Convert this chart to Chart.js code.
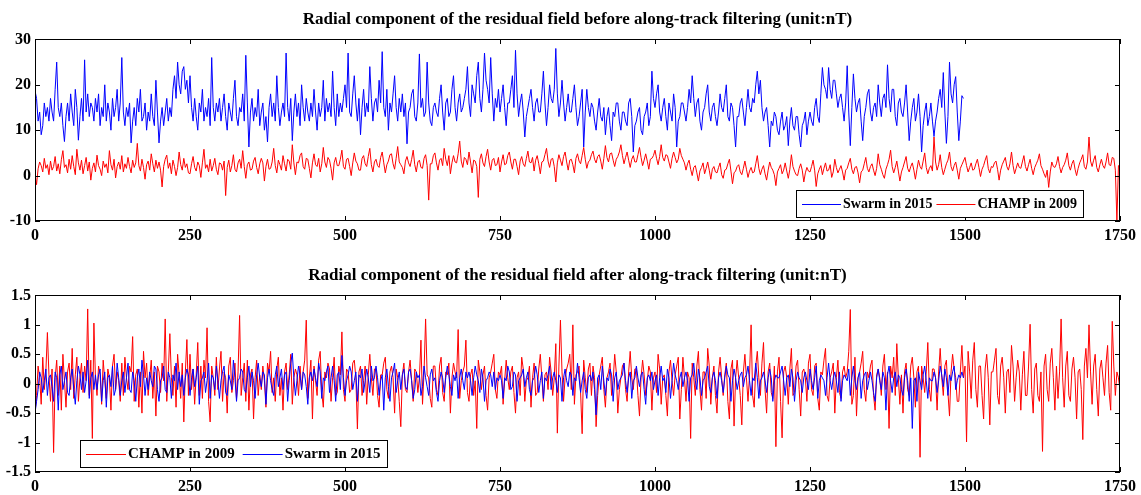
<!DOCTYPE html>
<html>
<head>
<meta charset="utf-8">
<script src="https://cdn.jsdelivr.net/npm/chart.js@4.4.1/dist/chart.umd.min.js"></script>
<style>
  html, body { margin: 0; padding: 0; background: #fff; }
  canvas { display: block; }
</style>
</head>
<body>
<canvas id="graficoAntes" width="1141" height="248"></canvas>
<canvas id="graficoDespues" width="1141" height="247"></canvas>
<script>
// Muestras cada 2.5 unidades del eje x (20 por fila = 50 unidades)
const paso = 2.5;

// Ticks de los ejes
const ticksX = [0, 250, 500, 750, 1000, 1250, 1500, 1750];
const ticksYAntes = [-10, 0, 10, 20, 30];
const ticksYDespues = [-1.5, -1, -0.5, 0, 0.5, 1, 1.5];

// Panel superior: Swarm 2015 antes del filtrado (x = 0..1497.5)
const swarmAntes = [
  18.7, 17, 12, 14, 9, 11, 16, 13, 15, 12, 17, 14, 12, 19, 25, 15, 13, 16, 11, 7.5,
  13, 16, 12, 18, 14, 11, 19, 15, 7.8, 13, 17, 12, 25.5, 14, 18, 13, 16, 15, 12, 17,
  14, 18, 11, 15, 13, 20, 12, 16, 14, 10, 17, 13, 15, 19, 12, 16, 26, 14, 11, 15,
  13, 16, 7.2, 12, 15, 11, 17, 14, 19, 12, 13, 16, 10, 14, 12, 18, 13, 11, 21, 14,
  7.2, 12, 15, 11, 14, 17, 12, 15, 13, 19, 22, 17, 25, 20, 18, 23, 24, 19, 21, 16,
  22, 15, 12, 17, 13, 10, 16, 14, 19, 12, 15, 13, 17, 11, 26, 15, 12, 16, 14, 17,
  12, 15, 18, 13, 10, 16, 14, 12, 17, 21, 13, 11, 15, 14, 18, 12, 26.5, 16, 6.3, 14,
  17, 12, 15, 13, 19, 11, 14, 16, 10, 13, 7.4, 15, 18, 13, 16, 12, 22, 15, 11, 14,
  16, 13, 27, 15, 12, 17, 7.7, 14, 18, 13, 16, 11, 20, 15, 12, 17, 14, 12, 16, 13,
  19, 14, 10, 16, 13, 15, 21, 12, 17, 14, 16, 13, 23, 15, 11, 18, 13, 16, 14, 17,
  20, 15, 27, 14, 13, 18, 22, 16, 12, 17, 9, 15, 19, 13, 16, 14, 24, 17, 12, 16,
  17, 14, 21, 16, 27.3, 15, 13, 19, 10, 16, 14, 18, 22, 15, 12, 17, 14, 18, 13, 16,
  7, 14, 15, 18, 19, 13, 12, 16, 26.8, 15, 17, 13, 14, 25, 16, 12, 11, 15, 16, 14,
  13, 17, 20, 14, 10, 16, 17, 13, 14, 19, 22, 15, 12, 16, 18, 14, 15, 17, 19, 24,
  16, 13, 20, 18, 16, 22, 25, 17, 14, 19, 27, 21, 19, 16, 26, 18, 12, 17, 15, 19,
  14, 17, 20, 15, 11, 16, 16, 19, 22, 15, 27.6, 18, 13, 16, 18, 14, 8.5, 13, 15, 17,
  19, 15, 12, 16, 17, 14, 14, 18, 23, 16, 11, 15, 20, 17, 16, 19, 28, 18, 13, 16,
  21, 16, 12, 15, 18, 14, 14, 17, 20, 15, 11, 13, 16, 19, 6.3, 14, 19, 15, 13, 16,
  15, 12, 10, 14, 17, 13, 12, 15, 9, 13, 15, 11, 7.7, 14, 13, 16, 16, 12, 10, 14,
  14, 12, 11, 16, 17, 13, 5.2, 11, 12, 14, 15, 10, 9, 13, 14, 16, 11, 13, 23, 17,
  15, 18, 20, 14, 12, 15, 17, 13, 10, 16, 14, 12, 18, 15, 6.3, 12, 13, 16, 16, 14,
  12, 15, 19, 16, 22, 17, 13, 16, 17, 12, 10, 14, 15, 18, 20, 14, 12, 15, 16, 13,
  11, 14, 18, 15, 14, 17, 20, 13, 12, 16, 15, 11, 6.3, 13, 13, 16, 17, 14, 11, 15,
  19, 15, 14, 17, 16, 20, 23, 18, 21, 15, 12, 14, 15, 11, 6.3, 12, 11, 14, 13, 10,
  9, 12, 14, 10, 11, 13, 6.6, 12, 15, 11, 10, 13, 13, 9, 6.3, 11, 12, 14, 9, 12,
  14, 12, 11, 15, 17, 13, 11.7, 18, 23.8, 20, 19, 17, 23.8, 19, 17, 21, 21, 18, 15, 17,
  18, 15, 12, 16, 24.2, 14, 6.6, 15, 22.4, 17, 14, 16, 17, 12, 7.7, 13, 15, 18, 19, 14,
  12, 15, 16, 13, 20, 16, 13, 17, 18, 15, 24.4, 17, 14, 19, 19, 13, 11, 16, 17, 14,
  13, 16, 20, 14, 7.7, 12, 15, 17, 12, 14, 18, 13, 5.2, 11, 14, 16, 11, 13, 16, 12,
  8.6, 12, 14, 17, 19, 15, 22.7, 14, 7.1, 13, 25, 18, 16, 20, 21.8, 14, 7.7, 12, 17.6, 17
];

// Panel superior: CHAMP 2009 antes del filtrado (x = 0..1750)
const champAntes = [
  0.5, -2, 1.5, 3, 2.2, 0.8, 3.8, 1.6, 2.4, 0.2, 3.2, 1.2, 2, 4.2, 1, 2.6, 0.4, 3.5, 5.5, 1.8,
  2.4, 0.6, 3.6, 1.4, 4.4, 2, 0.2, 5.8, 2.8, 1.2, 3.4, 0.4, 2.2, 4, 1, 3, -1, 1.6, 2.8, 0.8,
  4.5, 2.2, 1.4, 0, 3.2, 1.8, 2.6, 0.6, 5.5, 2.4, 1.2, 3.6, -0.5, 2, 3, 1.4, 4.4, 0.8, 2.6, 1.6,
  4, 2, 0.6, 3.4, 1.8, 2.8, 7.1, 2.2, 1, 3.6, 1.8, -0.8, 2.4, 3.2, 1.2, 4.8, 2.6, 0.8, 3.4, 1.6,
  3, 1.2, -2.5, 2, 3.6, 4.5, 1.6, 2.8, 0.4, 3.4, 2, 0, 1.8, 5.2, 2.4, 1.2, 3.8, 1.8, 2.6, 0.6,
  0.4, 2.6, 4.2, 1.8, 1, 3, 2.2, -0.4, 2.8, 5.8, 1.6, 2.4, 0.8, 3.6, 1, 2.2, 3.8, 1.4, 0.2, 2.8,
  2.6, 1.2, 3.2, -4.4, 1.8, 3.4, 0.8, 2.2, 4.6, 1.4, 0.8, 2.8, 3.6, 1.6, 5.5, 2, -0.6, 2.4, 3, 1.2,
  1.4, 3.2, 4, 1.8, 0.4, 2.6, 3.8, 2.8, -1.2, 2, 3.6, 1.4, 1.6, 3, 6, 2.2, 0.6, 3.4, 2.4, 1.2,
  4.4, 2.6, 1, 3.6, 3.2, 1.4, 6.8, 2.8, 0.2, 3, 2.8, 4.4, 5, 2, 1.4, 3.8, 3.6, 1.6, -0.5, 2.8,
  4.8, 2.4, 2, 3.8, 0.8, 2.6, 6.2, 3, 1.8, 4, 3.4, 1.6, -1, 2.8, 4, 2.2, 2.2, 3.6, 5.6, 2,
  1.4, 3.6, 3.8, 2, 0, 2.8, 5, 3.2, 2.6, 1.2, 1.2, 3.8, 4.4, 2.6, 2, 4.2, 6, 2.4, 0.8, 3,
  3.6, 2.2, 1.8, 4, 5.2, 2.8, 0.6, 2.4, 3.2, 4.6, 4.8, 2.6, 1.4, 3.8, 6.4, 3, 2.4, 1.8, 0.4, 3.2,
  4.2, 2.8, 2, 3.6, 5.6, 2.4, 0.8, 3, 3.4, 1.8, 1.6, 3.8, 4.6, 2.2, -5.4, 2.6, 2.6, 4.4, 5, 2.8,
  1.2, 3.4, 3.8, 2.2, 6, 3.6, 2.2, 4.4, 0.4, 2.8, 4.4, 3, 2.8, 4.8, 7.6, 3.2, 1.8, 4, 3.6, 2.4,
  5.2, 3, 0.6, 3.4, 3.2, 2, -4.8, 3.6, 4.8, 2.8, 2, 4.2, 5.8, 3, 1.2, 3.4, 3.8, 2.2, 2.4, 4,
  0.8, 3, 4.6, 2.4, 2.6, 4.4, 5.2, 3, 1.4, 3.6, 3.6, 2, 0.2, 3.2, 4.2, 2.6, 2, 3.8, 5.4, 3,
  2.8, 4, 1, 3.4, 4.4, 2.6, 0.4, 3, 3.2, 4.6, 6, 3.2, 1.8, 3.6, 3.8, 2, -1.4, 2.8, 4.6, 3.4,
  2.2, 4.2, 5.2, 3, 1.2, 3.4, 3.6, 2.4, 0.6, 3.8, 4.8, 3.2, 2.6, 4.4, 6.2, 3.6, 1.6, 3, 3.4, 4.6,
  5.4, 3.6, 2.8, 4.2, 4.6, 3.2, 1.4, 3.8, 6.6, 4, 3, 4.8, 5, 3.4, 2, 3.6, 4.2, 5.2, 6.8, 4.4,
  2.6, 4, 5.2, 3.4, 1.8, 3.6, 4.4, 3, 3, 4.6, 6.2, 4, 2.2, 3.4, 4.8, 3.2, 1.4, 3.6, 3.8, 4.4,
  5.6, 3.8, 2.4, 4.2, 6.8, 4, 3.2, 4.6, 4.4, 3, 1.6, 3.8, 5.2, 4, 2.8, 3.6, 6, 4.4, 3.6, 2.8,
  1.2, 2.6, 3.4, 1.4, 0, 1.8, 2.2, 0.6, -1.2, 1, 1.8, 2.8, 0.4, 1.6, 3, 1.2, -0.8, 1.4, 2, 0.8,
  0.6, 1.8, 2.8, 0.2, -0.6, 1.2, 1.4, 2.6, 3.6, 1, -1.8, 0.6, 1, 2, 2.4, 0.8, 0.2, 1.6, 3.2, 1.4,
  -0.4, 1, 1.8, 0.6, 0.8, 2.6, 4.4, 1.6, 0.2, 1.4, 2.2, 0.4, -1, 1.2, 3, 1.8, 1.2, 0.2, -2.2, 0.8,
  1.6, 2.4, 0.4, 1.2, 2.8, 1, -0.6, 1.4, 4.6, 2, 1, 0.2, 0, 1.6, 2.6, 1.2, -1.4, 0.6, 1.8, 1,
  0.8, 2, 3.4, 1.2, -2.4, 0.4, 1.4, 2.2, 0.2, 1.6, 2.8, 1, 1.2, 2.4, -0.4, 0.8, 3.6, 1.8, 0.6, 1.4,
  2.2, 0.8, -1, 1.2, 1.6, 2.8, 3.8, 1.4, 0.4, 1.8, 2, 0.6, -1.6, 0.8, 1.2, 2.6, 4, 1.6, 0.8, 2,
  2.6, 1.2, 0, 1.6, 4.8, 2.4, 1.4, 0.2, -0.6, 1.4, 2.4, 3.6, 5.6, 2, 0.6, 1.8, 3.2, 1, -1.2, 0.8,
  1.8, 3, 4.2, 1.6, 0.8, 2, 2.8, 1.2, -0.8, 1.4, 3.4, 2, 1.4, 3.2, 5, 1.8, 0.4, 1.6, 2.2, 1,
  8.5, 3, 1.2, 2.4, 4.6, 1.8, 0.2, 1.4, 2.6, 3.4, 5.2, 2, 1, 2.2, 3, 1.2, -0.8, 1.6, 2.4, 3.2,
  4, 2.2, 0.8, 1.8, 2.8, 1.2, 1.4, 2.6, 3.6, 1.8, -0.2, 1.4, 2.2, 3.4, 4.4, 1.6, 0.6, 2, 1.8, 2.8,
  3.2, 1.4, -1, 1.2, 2.4, 3.2, 4, 2, 1.2, 2.6, 5.2, 2.2, 0.4, 1.6, 2.8, 1.8, 1.6, 3, 4.4, 2,
  1, 2.4, 3.6, 1.6, 0.2, 1.8, 2.6, 3.4, 4.8, 2.2, 1.4, 0.4, -0.4, 1.2, -2.6, 0.8, 3, 2, 1.8, 2.6,
  4.2, 2, 0.6, 1.8, 2.4, 3.4, 5, 2.2, 1.2, 2.6, 3.4, 1.4, 0, 1.6, 2.8, 3.6, 4.6, 2, 1.4, 3,
  8.5, 3.2, 2, 3.4, 4.4, 1.8, 0.8, 2.4, 3.6, 2.2, 1.6, 3, 5, 2.4, 2.2, 4, 3.8, 1.2, -10, 2.2,
  2.4
];

// Panel inferior: CHAMP 2009 despues del filtrado (x = 0..1750)
const champDespues = [
  -0.5, -0.2, 0.3, 0.1, -0.35, 0.45, -0.1, 0.2, 0.87, 0.15, -0.3, 0.25, -1.17, 0.1, 0.4, -0.2, 0.3, -0.45, 0.5, 0.05,
  -0.4, 0.2, 0.35, -0.1, 0.6, -0.25, 0.15, 0.45, -0.3, 0.1, 0.35, -0.15, 0.3, 0.05, 1.27, -0.2, 0.4, -0.93, 1.03, 0.1,
  -0.2, 0.3, 0.15, -0.35, 0.4, 0.05, -0.25, 0.25, 0.1, -0.45, 0.3, 0.5, -0.1, 0.2, 0.05, -0.3, 0.35, -0.2, 0.45, 0.1,
  -0.1, 0.3, 0.2, 0.8, -0.3, 0.15, 0.25, -0.4, 0.2, -0.5, 0.55, 0.1, 0.35, -0.2, 0.1, 0.4, -0.25, 0.2, -0.55, 0.3,
  0.2, -0.15, 0.35, 0.05, 1.1, -0.3, 0.2, 0.85, 0.1, -0.2, 0.3, -0.4, 0.5, 0.15, -0.25, 0.35, -0.65, 0.2, 0.75, -0.2,
  0.5, -0.1, 0.25, -0.35, 0.15, 0.7, -0.2, 0.3, -0.25, 0.4, 0.1, 0.95, -0.3, -0.65, 0.3, 0.1, -0.2, 0.45, -0.1, 0.25,
  0.55, -0.3, 0.2, 0.1, -0.5, 0.3, 0.45, -0.15, 0.05, 0.35, -0.25, 0.2, 1.16, -0.2, 0.1, 0.35, -0.3, 0.4, -0.45, 0.15,
  0.25, -0.6, 0.1, 0.4, -0.2, 0.15, -0.1, 0.3, 0.05, -0.4, 0.35, 0.2, 0.55, -0.15, 0.1, -0.3, 0.25, 0.45, -0.2, 0.1,
  -0.45, 0.2, 0.35, -0.1, 0.15, 0.5, -0.35, 0.1, 0.25, 0.15, -0.2, 0.3, -0.1, 0.2, 0.4, 1.08, -0.25, 0.1, 0.4, -0.6,
  0.3, 0.05, -0.2, 0.4, 0.55, -0.15, -0.4, 0.2, 0.1, 0.35, 0.25, -0.3, 0.1, 0.45, -0.2, -0.15, 0.3, 0.15, 0.88, -0.1,
  -0.3, 0.25, 0.2, -0.15, -0.1, 0.35, 0.4, 0.1, -0.77, 0.2, 0.3, -0.2, 0.05, 0.3, -0.35, 0.15, 0.5, 0.1, -0.2, 0.25,
  0.25, -0.2, -0.4, 0.15, 0.15, 0.35, 0.45, -0.1, -0.25, 0.2, 0.3, 0.1, -0.5, 0.25, 0.1, -0.3, -0.73, 0.15, 0.35, -0.1,
  -0.15, 0.2, 0.4, 0.05, -0.3, 0.25, 0.2, -0.15, 0.1, 0.74, -0.35, 0.2, 1.1, 0.15, 0.1, -0.25, -0.4, 0.3, 0.3, -0.1,
  -0.2, 0.3, 0.45, -0.15, -0.3, 0.2, 0.15, 0.35, -0.5, 0.1, 0.35, 0.2, 0.1, 0.92, -0.25, 0.05, 0.2, 0.3, 0.74, -0.15,
  -0.3, 0.15, 0.25, -0.2, 0.05, -0.76, 0.4, 0.2, -0.1, 0.15, 0.3, -0.2, -0.45, 0.1, 0.2, 0.35, 0.5, -0.1, -0.25, 0.2,
  0.15, 0.3, -0.35, 0.05, 0.4, 0.1, -0.1, 0.2, 0.3, -0.15, -0.5, 0.1, 0.2, -0.2, 0.45, 0.25, -0.3, 0.05, 0.1, 0.3,
  -0.4, 0.1, 0.35, -0.2, -0.15, 0.25, 0.5, 0.1, -0.3, 0.15, 0.2, -0.1, 0.45, 0.2, -0.2, 0.1, 0.68, -0.84, 0.3, 1.08,
  0.2, -0.3, 0.1, 0.25, 0.35, 0.5, -0.1, 1.0, -0.35, 0.15, 0.2, 0.3, -0.15, -0.85, 0.4, 0.1, -0.15, 0.25, 0.35, -0.2,
  0.3, 0.1, -0.73, -0.2, 0.15, 0.3, 0.45, -0.1, -0.4, 0.1, 0.2, 0.35, -0.2, 0.05, 0.5, 0.2, -0.5, -0.1, 0.1, 0.3,
  0.35, -0.1, -0.3, 0.2, 0.55, 0.1, -0.1, 0.25, 0.25, -0.2, -0.55, 0.1, 0.4, 0.15, -0.2, 0.05, 0.3, 0.2, -0.45, 0.1,
  0.2, -0.15, 0.5, 0.25, -0.35, 0.1, 0.15, -0.2, -0.55, 0.2, 0.4, 0.05, -0.2, 0.15, 0.3, 0.45, -0.6, -0.1, 0.45, 0.1,
  -0.3, 0.2, 0.1, -0.93, 0.35, 0.1, -0.2, 0.3, 0.55, -0.1, -0.45, 0.2, 0.2, -0.25, 0.6, 0.3, -0.35, 0.1, 0.3, -0.2,
  -0.5, 0.2, 0.45, 0.1, -0.2, 0.15, 0.35, -0.3, -0.6, 0.25, 0.4, -0.72, 0.1, 0.4, 0.1, -0.2, -0.7, 0.2, 0.5, 0.1,
  -0.3, 0.15, 1.0, -0.2, -0.4, 0.3, 0.55, 0.1, -0.2, 0.35, 0.7, -0.1, -0.5, 0.2, 0.35, -0.15, -0.25, 0.3, -1.07, 0.2,
  0.45, -0.3, -0.92, 0.2, 0.3, 0.1, -0.35, 0.25, 0.6, -0.2, -0.15, 0.3, 0.4, -0.1, -0.55, 0.2, 0.25, 0.1, -0.3, 0.35,
  0.5, -0.1, -0.2, 0.3, 0.35, -0.25, -0.45, 0.2, 0.15, 0.4, 0.6, -0.2, -0.3, 0.1, 0.2, 0.35, -0.5, 0.1, 0.4, -0.15,
  -0.25, 0.2, 0.3, 0.1, 0.2, 0.55, 1.26, -0.35, -0.2, 0.45, -0.55, 0.1, 0.2, 0.35, 0.55, -0.1, -0.3, 0.2, 0.1, 0.3,
  0.4, -0.2, -0.45, 0.15, 0.25, 0.1, -0.2, 0.3, 0.5, -0.1, 0.2, -0.76, 0.3, 0.1, 0.45, -0.2, 0.68, 0.1, -0.35, 0.15,
  -0.5, 0.2, 0.35, -0.1, -0.2, 0.3, 0.45, 0.1, -0.4, 0.2, 0.3, -1.25, 0.3, 0.1, -0.15, 0.2, 0.7, -0.1, -0.3, 0.25,
  0.25, 0.1, -0.45, 0.2, 0.6, 0.1, -0.2, 0.3, 0.4, -0.15, -0.55, 0.2, 0.5, 0.25, 0.1, -0.3, -0.3, 0.2, 0.65, 0.1,
  0.3, -0.99, 0.55, 0.2, -0.25, 0.4, 0.7, -0.1, -0.4, 0.3, 0.3, -0.2, -0.6, 0.25, 0.5, 0.1, -0.7, 0.2, 0.2, 0.4,
  0.6, -0.2, -0.35, 0.3, 0.45, 0.1, -0.5, 0.2, 0.25, -0.15, 0.65, 0.3, -0.3, 0.1, 0.4, 0.2, -0.45, 0.15, 0.55, -0.2,
  -0.2, 0.3, 1.01, -0.1, -0.5, 0.25, 0.35, -0.2, -0.3, 0.2, -1.15, 0.3, 0.5, -0.1, -0.3, 0.35, 0.6, 0.1, -0.45, 0.3,
  -0.25, 0.2, 1.1, 0.1, -0.4, 0.3, 0.55, -0.2, -0.3, 0.25, 0.45, 0.1, -0.6, 0.2, 0.25, -0.1, -0.95, 0.3, 0.6, 0.1,
  1.0, 0.2, -0.35, 0.3, 0.5, -0.1, -0.55, 0.25, 0.4, 0.1, -0.2, 0.35, 0.65, -0.15, -0.45, 1.06, 0.3, -0.2, 0.2, 0.1,
  -0.1
];

// Panel inferior: Swarm 2015 despues del filtrado (x = 0..1497.5)
const swarmDespues = [
  -0.5, -0.3, -0.1, 0.2, 0.1, -0.15, 0.05, 0.25, -0.2, 0.1, 0.15, -0.05, -0.3, 0.2, 0.1, -0.45, 0.15, 0.3, -0.1, 0.05,
  0.2, -0.15, -0.2, 0.1, 0.25, -0.1, -0.35, 0.05, 0.3, 0.15, -0.1, 0.2, -0.15, 0.05, 0.4, -0.25, 0.1, 0.2, -0.1, 0.15,
  -0.1, 0.15, 0.25, -0.3, 0.05, 0.2, -0.4, 0.1, 0.15, -0.05, 0.3, -0.2, -0.1, 0.35, 0.1, -0.2, 0.05, 0.2, -0.15, 0.1,
  0.35, -0.1, -0.15, 0.2, 0.05, -0.3, 0.1, 0.25, -0.05, 0.4, 0.15, -0.2, 0.1, -0.1, 0.2, 0.05, -0.05, 0.3, 0.25, -0.1,
  -0.3, 0.05, 0.1, 0.3, -0.1, -0.15, 0.2, 0.1, -0.25, 0.15, 0.05, 0.35, -0.1, 0.2, -0.05, 0.15, -0.2, 0.1, 0.25, 0.15,
  -0.2, 0.1, 0.25, -0.05, 0.1, 0.3, -0.35, 0.05, 0.1, 0.2, -0.15, 0.05, 0.35, -0.25, 0.15, 0.1, -0.1, 0.3, 0.05, -0.25,
  0.05, 0.2, 0.3, -0.15, -0.2, 0.15, 0.05, -0.1, 0.4, 0.1, -0.3, 0.05, 0.1, 0.25, 0.2, -0.1, -0.15, 0.1, 0.3, -0.05,
  0.2, 0.05, -0.25, 0.15, 0.35, 0.1, -0.05, 0.2, 0.15, -0.35, 0.1, 0.25, 0.05, -0.1, -0.2, 0.15, 0.3, -0.05, 0.1, 0.25,
  -0.1, 0.15, 0.2, -0.3, 0.05, 0.35, 0.52, 0.1, -0.2, 0.05, 0.3, 0.15, -0.1, 0.2, 0.15, -0.05, -0.35, 0.1, 0.2, 0.05,
  0.25, 0.1, -0.05, 0.35, 0.2, -0.25, 0.1, 0.05, 0.2, 0.3, -0.15, 0.1, 0.3, 0.05, -0.3, 0.15, 0.2, -0.1, 0.48, 0.1,
  -0.2, 0.05, 0.15, 0.3, 0.2, -0.1, 0.05, 0.2, -0.3, 0.15, 0.1, 0.25, -0.15, 0.05, 0.25, 0.1, -0.15, 0.3, 0.05, 0.1,
  0.3, 0.1, -0.2, 0.05, 0.15, -0.45, 0.1, 0.25, -0.05, -0.3, 0.1, 0.2, 0.35, -0.15, 0.05, 0.2, -0.1, 0.15, 0.25, -0.05,
  -0.1, 0.2, 0.25, 0.05, -0.25, -0.1, 0.2, 0.1, 0.15, -0.2, -0.05, 0.3, 0.1, -0.05, -0.2, 0.15, 0.25, 0.05, 0.1, -0.15,
  -0.3, 0.05, 0.2, 0.1, -0.15, 0.1, 0.3, 0.15, -0.05, -0.2, 0.15, 0.05, 0.2, -0.25, 0.1, 0.25, 0.05, -0.1, 0.2, 0.1,
  0.2, 0.05, -0.2, 0.1, 0.3, 0.15, 0.05, -0.15, 0.25, 0.1, -0.3, 0.05, 0.1, 0.2, 0.15, -0.05, 0.2, -0.1, 0.1, 0.05,
  0.15, 0.05, -0.25, 0.1, 0.05, 0.3, 0.2, -0.1, -0.05, 0.2, 0.15, -0.3, 0.05, 0.1, 0.15, 0.25, -0.05, 0.1, 0.2, -0.1,
  -0.2, 0.05, 0.1, 0.3, 0.15, -0.15, 0.05, 0.2, -0.25, 0.1, 0.05, 0.15, 0.3, -0.1, 0.1, 0.2, 0.05, -0.15, 0.15, 0.1,
  -0.3, 0.1, 0.25, 0.05, -0.05, 0.2, 0.15, -0.2, 0.1, 0.05, 0.35, 0.1, -0.15, 0.05, 0.2, -0.1, -0.25, 0.1, 0.15, 0.05,
  0.2, -0.1, -0.53, 0.1, 0.15, -0.1, 0.3, 0.05, -0.2, 0.1, 0.05, 0.25, 0.15, -0.3, 0.1, 0.2, -0.1, 0.05, 0.1, 0.15,
  0.35, 0.05, -0.15, 0.1, 0.2, -0.25, 0.05, 0.1, 0.3, 0.1, -0.05, 0.15, 0.2, -0.1, -0.35, 0.1, 0.15, 0.05, 0.2, -0.1,
  0.05, 0.15, -0.2, 0.1, 0.3, 0.05, 0.1, -0.15, 0.25, 0.1, -0.25, 0.05, 0.35, 0.15, 0.05, -0.1, 0.1, 0.2, -0.05, 0.1,
  0.2, 0.05, -0.3, 0.1, 0.15, 0.35, 0.05, -0.1, 0.25, 0.1, -0.2, 0.05, 0.1, 0.2, 0.3, -0.05, -0.15, 0.1, 0.2, 0.05,
  -0.25, 0.1, 0.2, 0.05, -0.15, 0.1, 0.3, 0.15, 0.1, -0.3, 0.05, 0.25, 0.1, -0.1, 0.05, 0.15, 0.2, -0.05, 0.1, 0.15,
  0.3, 0.05, -0.2, 0.1, 0.05, 0.35, 0.1, -0.25, 0.05, 0.1, 0.2, 0.05, -0.15, 0.1, 0.25, 0.1, -0.3, 0.05, 0.15, 0.1,
  0.1, 0.2, 0.3, 0.05, -0.2, 0.1, 0.15, -0.05, 0.25, 0.1, -0.3, 0.05, 0.2, 0.1, 0.05, -0.15, 0.1, 0.2, 0.05, -0.1,
  0.25, 0.05, -0.1, 0.1, 0.3, -0.25, 0.05, 0.15, 0.1, 0.05, -0.2, 0.1, 0.35, 0.05, -0.1, 0.1, 0.2, 0.05, -0.15, 0.2,
  -0.3, 0.05, 0.15, 0.1, 0.05, 0.25, -0.2, 0.1, 0.3, 0.05, -0.1, 0.1, 0.2, -0.25, 0.05, 0.15, 0.2, -0.1, 0.05, 0.2,
  0.05, -0.15, -0.3, 0.1, 0.25, 0.05, -0.1, 0.2, 0.1, -0.45, 0.15, 0.3, 0.05, -0.15, 0.1, 0.2, -0.05, 0.15, 0.1, -0.1,
  -0.2, 0.1, 0.25, 0.05, -0.3, 0.1, -0.76, 0.05, 0.1, -0.3, 0.2, 0.05, -0.1, 0.15, 0.3, 0.05, -0.25, 0.1, 0.05, 0.05,
  0.2, 0.1, -0.15, 0.05, 0.3, 0.15, -0.05, 0.25, 0.1, -0.2, 0.15, 0.05, 0.2, 0.3, -0.1, 0.05, 0.15, 0.1, 0.2, 0.1
];

const azul = 'rgb(0, 0, 255)';
const rojo = 'rgb(255, 0, 0)';
const familia = '"Liberation Serif", "Times New Roman", serif';
const largoMarca = 5;

// Convierte la lista de valores en puntos {x, y}
const aPuntos = valores => valores.map((v, i) => ({ x: i * paso, y: v }));

// Dibuja el marco, las marcas hacia adentro y la leyenda con recuadro
const marcoYLeyenda = {
  id: 'marcoYLeyenda',
  afterDraw(chart, args, opts) {
    const { ctx, chartArea: a, scales } = chart;
    const l = Math.round(a.left), r = Math.round(a.right);
    const t = Math.round(a.top), b = Math.round(a.bottom);
    ctx.save();
    ctx.strokeStyle = '#000';
    ctx.lineWidth = 1;
    ctx.strokeRect(l + 0.5, t + 0.5, r - l - 1, b - t - 1);

    ctx.beginPath();
    scales.x.ticks.forEach(tk => {
      const px = Math.round(scales.x.getPixelForValue(tk.value)) + 0.5;
      ctx.moveTo(px, b); ctx.lineTo(px, b - largoMarca);
      ctx.moveTo(px, t); ctx.lineTo(px, t + largoMarca);
    });
    scales.y.ticks.forEach(tk => {
      const py = Math.round(scales.y.getPixelForValue(tk.value)) + 0.5;
      ctx.moveTo(l, py); ctx.lineTo(l + largoMarca, py);
      ctx.moveTo(r, py); ctx.lineTo(r - largoMarca, py);
    });
    ctx.stroke();

    // Leyenda
    ctx.font = 'bold ' + opts.tamano + 'px ' + familia;
    const items = opts.orden.map(i => chart.data.datasets[i]);
    const anchos = items.map(d => ctx.measureText(d.label).width);
    const linea = opts.linea, hueco = 2, margen = 6, alto = 27;
    const separacion = opts.separacion;
    const ancho = Math.round(margen * 2 + anchos.reduce((s, w) => s + linea + hueco + w, 0) + separacion * (items.length - 1));
    const x0 = Math.round(opts.lado === 'derecha' ? r - opts.dx - ancho : l + opts.dx);
    const y0 = Math.round(b - opts.dy - alto);
    ctx.fillStyle = '#fff';
    ctx.fillRect(x0, y0, ancho, alto);
    ctx.strokeRect(x0 + 0.5, y0 + 0.5, ancho, alto);
    let x = x0 + margen;
    const yc = y0 + alto / 2;
    items.forEach((d, i) => {
      ctx.strokeStyle = d.borderColor;
      ctx.beginPath();
      ctx.moveTo(x, Math.round(yc) + 0.5);
      ctx.lineTo(x + linea, Math.round(yc) + 0.5);
      ctx.stroke();
      x += linea + hueco;
      ctx.fillStyle = '#000';
      ctx.textBaseline = 'middle';
      ctx.fillText(d.label, x, yc + 1);
      x += anchos[i] + separacion;
    });
    ctx.restore();
  }
};

const crearGrafico = (id, datasets, titulo, yMin, yMax, ticksY, padTitulo, altoEjeX, leyenda) => {
  return new Chart(document.getElementById(id), {
    type: 'line',
    data: { datasets: datasets },
    plugins: [marcoYLeyenda],
    options: {
      responsive: false,
      animation: false,
      events: [],
      layout: { padding: { left: 0, right: 21, top: 0, bottom: 0 } },
      elements: {
        line: { borderWidth: 1, tension: 0 },
        point: { radius: 0 }
      },
      plugins: {
        legend: { display: false },
        tooltip: { enabled: false },
        title: {
          display: true,
          text: titulo,
          fullSize: false,
          color: '#000',
          font: { family: familia, size: 17, weight: 'bold' },
          padding: padTitulo
        },
        marcoYLeyenda: leyenda
      },
      scales: {
        x: {
          type: 'linear',
          min: 0,
          max: 1750,
          grid: { display: false, drawTicks: false },
          border: { display: false },
          ticks: {
            color: '#000',
            padding: 5,
            font: { family: familia, size: 16, weight: 'bold' },
            callback: v => String(v)
          },
          afterBuildTicks: s => { s.ticks = ticksX.map(v => ({ value: v })); },
          afterFit: s => { s.height = altoEjeX; }
        },
        y: {
          type: 'linear',
          min: yMin,
          max: yMax,
          grid: { display: false, drawTicks: false },
          border: { display: false },
          ticks: {
            color: '#000',
            padding: 4,
            font: { family: familia, size: 16, weight: 'bold' },
            callback: v => String(v)
          },
          afterBuildTicks: s => { s.ticks = ticksY.map(v => ({ value: v })); },
          afterFit: s => { s.width = 35; }
        }
      }
    }
  });
};

crearGrafico('graficoAntes', [
  { label: 'Swarm in 2015', data: aPuntos(swarmAntes), borderColor: azul, order: 0 },
  { label: 'CHAMP in 2009', data: aPuntos(champAntes), borderColor: rojo, order: 1 }
], 'Radial component of the residual field before along-track filtering (unit:nT)',
  -10, 30, ticksYAntes, { top: 9, bottom: 10 }, 27,
  { orden: [0, 1], lado: 'derecha', dx: 37, dy: 4, tamano: 14, linea: 39, separacion: 4 });

crearGrafico('graficoDespues', [
  { label: 'CHAMP in 2009', data: aPuntos(champDespues), borderColor: rojo, order: 1 },
  { label: 'Swarm in 2015', data: aPuntos(swarmDespues), borderColor: azul, order: 0 }
], 'Radial component of the residual field after along-track filtering (unit:nT)',
  -1.5, 1.5, ticksYDespues, { top: 17, bottom: 10 }, 23,
  { orden: [0, 1], lado: 'izquierda', dx: 45, dy: 5, tamano: 15, linea: 40, separacion: 8 });
</script>
</body>
</html>
